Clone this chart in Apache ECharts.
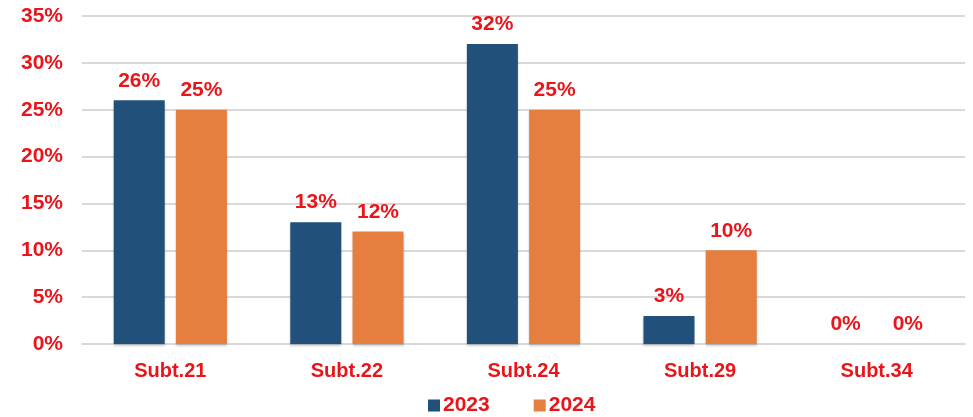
<!DOCTYPE html>
<html>
<head>
<meta charset="utf-8">
<script src="https://cdn.jsdelivr.net/npm/echarts@6/dist/echarts.min.js"></script>
<style>html,body{margin:0;padding:0;background:#fff;}#c{width:973px;height:417px;}</style>
</head>
<body>
<div id="c"></div>
<script>
var categories = ['Subt.21', 'Subt.22', 'Subt.24', 'Subt.29', 'Subt.34'];
var seriesNames = ['2023', '2024'];
var values2023 = [26, 13, 32, 3, 0];
var values2024 = [25, 12, 25, 10, 0];
var yTicks = [0, 5, 10, 15, 20, 25, 30, 35];

var RED = '#e8151b';
var FONT = '"Liberation Sans", Arial, sans-serif';
var chart = echarts.init(document.getElementById('c'), null, {renderer: 'canvas'});
var labelStyle = {
  show: true, position: 'top', distance: 9,
  formatter: function (p) { return p.value + '%'; },
  color: RED, fontWeight: 'bold', fontSize: 21, fontFamily: FONT
};
chart.setOption({
  animation: false,
  backgroundColor: '#fff',
  grid: {left: 82, right: 8, top: 16, bottom: 73, containLabel: false},
  legend: {
    top: 395, left: 428, padding: 0, itemWidth: 12, itemHeight: 12, itemGap: 44,
    icon: 'rect',
    textStyle: {color: RED, fontWeight: 'bold', fontSize: 21, fontFamily: FONT, padding: [0, 0, 0, -2]},
    data: seriesNames
  },
  xAxis: {
    type: 'category', data: categories,
    axisLine: {show: true, lineStyle: {color: '#d9d9d9', width: 2}},
    axisTick: {show: false},
    axisLabel: {color: RED, fontWeight: 'bold', fontSize: 20, fontFamily: FONT, margin: 17}
  },
  yAxis: {
    type: 'value', min: yTicks[0], max: yTicks[yTicks.length - 1], interval: 5,
    axisLine: {show: false}, axisTick: {show: false},
    splitLine: {lineStyle: {color: '#d9d9d9', width: 2}},
    axisLabel: {color: RED, fontWeight: 'bold', fontSize: 21, fontFamily: FONT, margin: 19,
      formatter: function (v) { return v + '%'; }}
  },
  series: [
    {name: seriesNames[0], type: 'bar', data: values2023, barWidth: 51, barGap: '22%',
     itemStyle: {color: '#21507a', shadowColor: 'rgba(0,0,0,0.2)', shadowBlur: 2, shadowOffsetY: 2},
     label: labelStyle},
    {name: seriesNames[1], type: 'bar', data: values2024, barWidth: 51,
     itemStyle: {color: '#e57e3e', shadowColor: 'rgba(0,0,0,0.2)', shadowBlur: 2, shadowOffsetY: 2},
     label: labelStyle}
  ]
});
</script>
</body>
</html>
